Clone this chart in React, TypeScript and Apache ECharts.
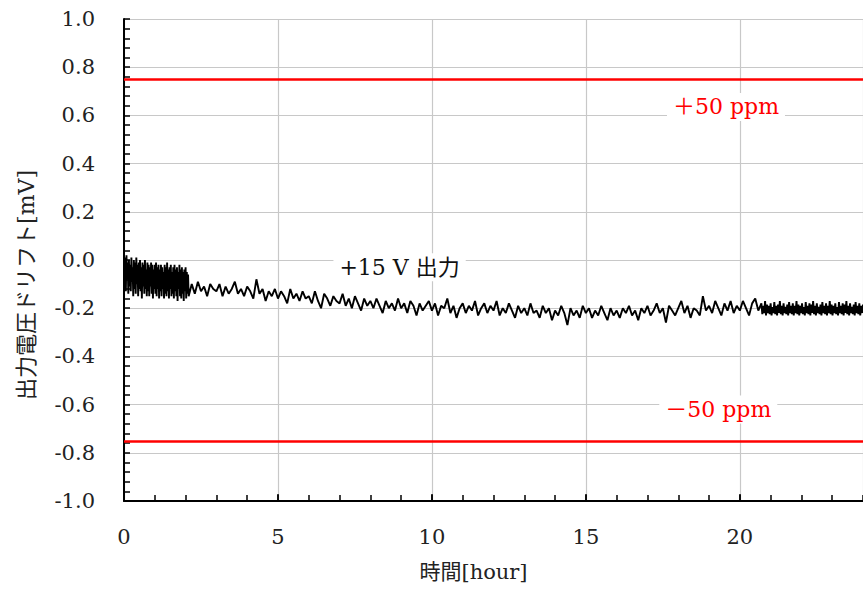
import React, { useEffect, useRef } from "react";
import * as echarts from "echarts";

// Segment A: 0 .. 2.1 h, every 0.02 h (dense start-up band)
const segAStart = 0;
const segAStep = 0.02;
const segAValues = [
  0.03, -0.10, 0.01, -0.13, 0.02, -0.08, -0.01, -0.14, 0.00, -0.11,
  -0.02, -0.13, 0.01, -0.09, -0.03, -0.15, 0.00, -0.12, -0.01, -0.14,
  0.01, -0.10, -0.02, -0.15, -0.01, -0.12, 0.00, -0.13, -0.03, -0.16,
  -0.01, -0.11, -0.02, -0.14, 0.00, -0.12, -0.04, -0.15, -0.01, -0.13,
  -0.02, -0.15, -0.03, -0.11, -0.01, -0.14, -0.02, -0.16, -0.04, -0.12,
  -0.02, -0.14, -0.01, -0.15, -0.03, -0.12, -0.02, -0.16, -0.04, -0.13,
  -0.02, -0.15, -0.03, -0.12, -0.05, -0.16, -0.02, -0.14, -0.03, -0.15,
  -0.01, -0.13, -0.04, -0.16, -0.03, -0.12, -0.02, -0.15, -0.05, -0.14,
  -0.03, -0.16, -0.02, -0.13, -0.04, -0.15, -0.03, -0.17, -0.05, -0.12,
  -0.02, -0.15, -0.04, -0.16, -0.03, -0.14, -0.05, -0.17, -0.04, -0.13,
  -0.03, -0.16, -0.05, -0.14, -0.06, -0.15,
];

// Segment B: 2.2 .. 20.6 h, every 0.1 h
const segBStart = 2.2;
const segBStep = 0.1;
const segBValues = [
  -0.10, -0.14, -0.09, -0.13, -0.11, -0.15, -0.10, -0.12,
  -0.13, -0.10, -0.15, -0.11, -0.14, -0.12, -0.09, -0.14, -0.12, -0.15,
  -0.11, -0.13, -0.16, -0.08, -0.14, -0.12, -0.17, -0.13, -0.15, -0.12,
  -0.16, -0.13, -0.15, -0.18, -0.12, -0.16, -0.14, -0.17, -0.13, -0.16,
  -0.15, -0.18, -0.13, -0.17, -0.20, -0.14, -0.16, -0.19, -0.15, -0.17,
  -0.18, -0.14, -0.19, -0.16, -0.20, -0.15, -0.18, -0.21, -0.16, -0.19,
  -0.17, -0.20, -0.16, -0.19, -0.22, -0.17, -0.20, -0.18, -0.21, -0.16,
  -0.20, -0.18, -0.22, -0.17, -0.19, -0.23, -0.18, -0.21, -0.19, -0.17,
  -0.21, -0.18, -0.23, -0.19, -0.20, -0.16, -0.22, -0.19, -0.24, -0.20,
  -0.18, -0.22, -0.19, -0.21, -0.17, -0.23, -0.20, -0.18, -0.22, -0.19,
  -0.21, -0.17, -0.23, -0.20, -0.22, -0.18, -0.21, -0.24, -0.19, -0.22,
  -0.20, -0.23, -0.18, -0.22, -0.21, -0.24, -0.19, -0.22, -0.20, -0.25,
  -0.21, -0.23, -0.19, -0.22, -0.27, -0.20, -0.23, -0.21, -0.24, -0.19,
  -0.22, -0.20, -0.24, -0.21, -0.23, -0.19, -0.22, -0.25, -0.20, -0.23,
  -0.21, -0.24, -0.20, -0.22, -0.19, -0.23, -0.21, -0.25, -0.20, -0.22,
  -0.19, -0.23, -0.21, -0.18, -0.22, -0.20, -0.26, -0.19, -0.21, -0.23,
  -0.20, -0.17, -0.22, -0.19, -0.24, -0.20, -0.21, -0.23, -0.15, -0.21,
  -0.19, -0.22, -0.17, -0.20, -0.23, -0.18, -0.21, -0.17, -0.22, -0.19,
  -0.21, -0.17, -0.20, -0.23, -0.18, -0.16, -0.21,
];

// Segment C: 20.7 .. 24.0 h, every 0.03 h (denser sampling at the end)
const segCStart = 20.7;
const segCStep = 0.03;
const segCValues = [
  -0.18, -0.225, -0.19, -0.22, -0.17, -0.23, -0.185, -0.22, -0.19, -0.225,
  -0.18, -0.23, -0.195, -0.22, -0.175, -0.225, -0.19, -0.23, -0.185, -0.22,
  -0.17, -0.225, -0.19, -0.23, -0.18, -0.22, -0.195, -0.225, -0.185, -0.23,
  -0.175, -0.22, -0.19, -0.225, -0.18, -0.23, -0.19, -0.22, -0.17, -0.225,
  -0.185, -0.23, -0.19, -0.22, -0.18, -0.225, -0.195, -0.23, -0.175, -0.22,
  -0.19, -0.225, -0.18, -0.23, -0.185, -0.22, -0.17, -0.225, -0.19, -0.23,
  -0.18, -0.22, -0.195, -0.225, -0.185, -0.23, -0.175, -0.22, -0.19, -0.225,
  -0.18, -0.23, -0.19, -0.22, -0.17, -0.225, -0.185, -0.23, -0.19, -0.22,
  -0.18, -0.225, -0.195, -0.23, -0.175, -0.22, -0.19, -0.225, -0.18, -0.23,
  -0.185, -0.22, -0.17, -0.225, -0.19, -0.23, -0.18, -0.22, -0.195, -0.225,
  -0.185, -0.23, -0.175, -0.22, -0.19, -0.225, -0.18, -0.23, -0.19, -0.22, -0.185,
];

// Limit lines (±50 ppm of 15 V = ±0.75 mV)
const limitValues = [0.75, -0.75];
const limitLabels = ["＋50 ppm", "－50 ppm"];
const limitLabelCoords: [number, number][] = [
  [19.55, 0.635],
  [19.3, -0.62],
];
const seriesLabel = "+15 V 出力";
const seriesLabelCoord: [number, number] = [8.95, -0.03];

const xMin = 0;
const xMax = 24;
const yMin = -1;
const yMax = 1;

const yName = "出力電圧ドリフト[mV]";
const xName = "時間[hour]";

function buildSeg(start: number, step: number, vals: number[]) {
  return vals.map((v, i) => [+(start + i * step).toFixed(3), v]);
}

const FONT = "'DejaVu Serif', 'Noto Sans CJK JP', serif";

export default function App() {
  const ref = useRef<HTMLDivElement>(null);

  useEffect(() => {
    if (!ref.current) return;
    const chart = echarts.init(ref.current, undefined, { renderer: "svg" });
    const data = [
      ...buildSeg(segAStart, segAStep, segAValues),
      ...buildSeg(segBStart, segBStep, segBValues),
      ...buildSeg(segCStart, segCStep, segCValues),
    ];
    const gridGray = "#c8c8c8";
    const labelStyleBase = {
      fontFamily: FONT,
      fontSize: 22,
      backgroundColor: "#ffffff",
      padding: [3, 6],
    };
    chart.setOption({
      animation: false,
      backgroundColor: "#ffffff",
      grid: { left: 124, top: 19, width: 742, height: 482, containLabel: false },
      graphic: [
        {
          type: "text",
          x: 26,
          y: 285,
          rotation: Math.PI / 2,
          style: {
            text: yName,
            fontFamily: FONT,
            fontSize: 22,
            fill: "#222",
            align: "center",
            verticalAlign: "middle",
          },
        },
      ],
      xAxis: [
        {
          type: "value",
          position: "bottom",
          min: xMin,
          max: xMax,
          interval: 5,
          name: xName,
          nameLocation: "middle",
          nameGap: 60,
          nameTextStyle: { fontFamily: FONT, fontSize: 21, color: "#222", padding: [0, 40, 0, 0] },
          axisLine: { show: true, onZero: false, lineStyle: { color: "#000", width: 2 } },
          axisTick: { show: true, inside: true, length: 7, lineStyle: { color: "#000", width: 1.5 } },
          axisLabel: {
            show: true,
            margin: 25,
            showMaxLabel: false,
            fontFamily: FONT,
            fontSize: 21,
            color: "#222",
            formatter: (v: number) => (v % 5 === 0 ? String(v) : ""),
          },
          splitLine: { show: true, lineStyle: { color: gridGray, width: 1.2 } },
        },
        {
          type: "value",
          position: "bottom",
          min: xMin,
          max: xMax,
          interval: 1,
          axisLine: { show: false, onZero: false },
          axisTick: { show: true, inside: true, length: 6, lineStyle: { color: "#000", width: 1.5 } },
          axisLabel: { show: false },
          splitLine: { show: false },
        },
      ],
      yAxis: {
        type: "value",
        min: yMin,
        max: yMax,
        interval: 0.2,
        axisLine: { show: true, onZero: false, lineStyle: { color: "#000", width: 2 } },
        axisTick: { show: true, inside: true, length: 6, lineStyle: { color: "#000", width: 1.5 } },
        minorTick: { show: true, splitNumber: 5, length: 6, lineStyle: { color: "#000", width: 1.5 } },
        minorSplitLine: { show: false },
        axisLabel: {
          margin: 29,
          fontFamily: FONT,
          fontSize: 21,
          color: "#222",
          formatter: (v: number) => (Math.abs(v) < 1e-9 ? "0.0" : v.toFixed(1)),
        },
        splitLine: { show: true, lineStyle: { color: gridGray, width: 1.2 } },
      },
      series: [
        {
          type: "line",
          xAxisIndex: 0,
          data,
          showSymbol: false,
          symbol: "none",
          lineStyle: { color: "#000", width: 1.9 },
          z: 3,
          markLine: {
            silent: true,
            symbol: "none",
            label: { show: false },
            lineStyle: { color: "#ff0000", width: 2.6, type: "solid" },
            data: limitValues.map((v) => ({ yAxis: v })),
            z: 4,
          },
          markPoint: {
            silent: true,
            symbol: "circle",
            symbolSize: 1,
            itemStyle: { color: "rgba(0,0,0,0)" },
            data: [
              {
                coord: seriesLabelCoord,
                label: { show: true, position: "inside", formatter: seriesLabel, color: "#111", ...labelStyleBase },
              },
              ...limitLabels.map((t, i) => ({
                coord: limitLabelCoords[i],
                label: { show: true, position: "inside", formatter: t, color: "#ff0000", ...labelStyleBase },
              })),
            ],
            z: 5,
          },
        },
      ],
    });
    return () => chart.dispose();
  }, []);

  return (
    <div
      ref={ref}
      style={{ position: "fixed", left: 0, top: 0, width: 863, height: 590, background: "#fff" }}
    />
  );
}
